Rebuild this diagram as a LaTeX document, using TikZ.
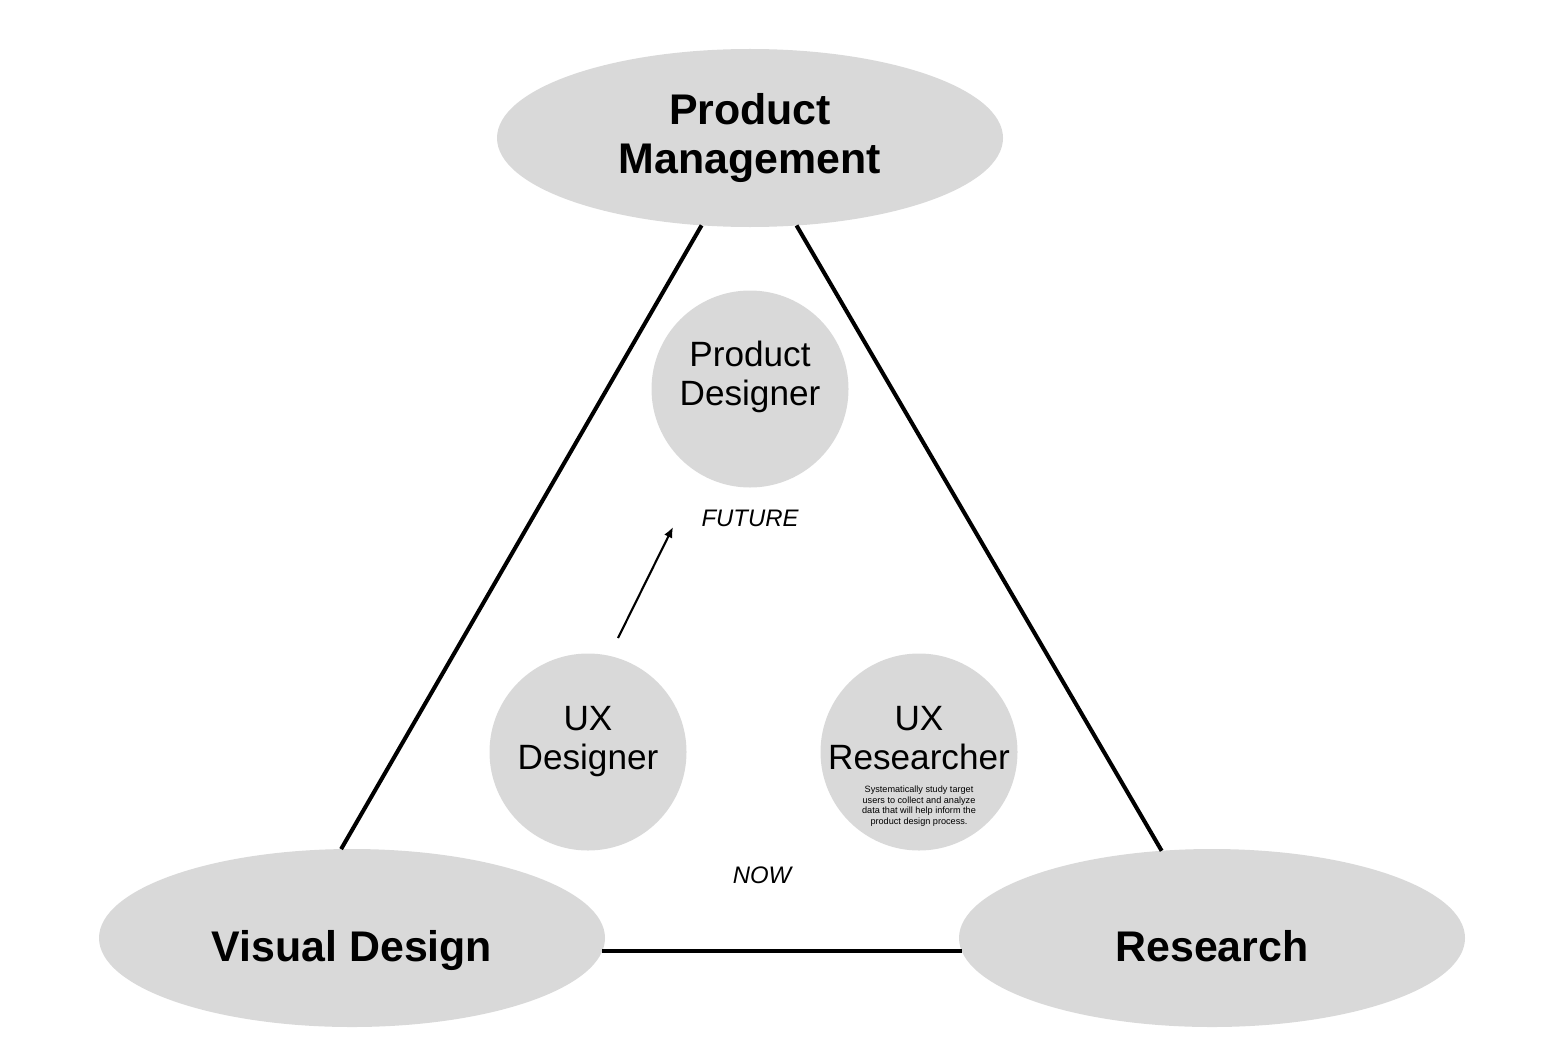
\documentclass[tikz,border=0pt]{standalone}
\usepackage{fontspec}
\setmainfont{Liberation Sans}
\usetikzlibrary{shapes.geometric,arrows.meta}
\definecolor{bubble}{HTML}{D9D9D9}
\tikzset{
	area/.style={ellipse, fill=bubble, minimum width=5.06cm, minimum height=1.78cm, inner sep=0pt, outer sep=0pt, align=center, font=\fontsize{12.2}{14.2}\selectfont\bfseries},
	oneline/.style={text height=13.3pt, text depth=0pt},
	role/.style={circle, fill=bubble, minimum size=1.97cm, inner sep=0pt},
	rolename/.style={align=center, inner sep=0pt, text depth=0pt, font=\fontsize{10}{11.1}\selectfont},
	note/.style={align=center, inner sep=0pt, font=\fontsize{2.6}{3}\selectfont},
	stage/.style={inner sep=0pt, font=\fontsize{6.8}{8}\selectfont\itshape},
	edge/.style={line width=1.15pt},
}

\begin{document}
\begin{tikzpicture}
		\useasboundingbox (0,0) rectangle (15.54,-10.54);

		\draw 
		(7.50, -1.38) node [area] (PM) {Product\\Management}
		(3.52, -9.38) node [area, oneline] (VD) {Visual Design}
		(12.12, -9.38) node [area, oneline] (RS) {Research};
		\draw[edge] (PM.241) -- (VD.97);
		\draw[edge] (PM.298) -- (RS.120.6);
		\draw[edge] (VD.-3.4) -- (RS.183.4);

		\draw 
		(7.50, -3.89) node [role] (PD) {}
		(5.88, -7.52) node [role] (UXD) {}
		(9.19, -7.52) node [role] (UXR) {};

		\draw 
		(7.50, -3.73) node [rolename] (PDname) {Product\\Designer}
		(5.88, -7.38) node [rolename] (UXDname) {UX\\Designer}
		(9.19, -7.38) node [rolename] (UXRname) {UX\\Researcher}
		(9.19, -8.06) node [note] (UXRnote) {Systematically study target\\users to collect and analyze\\data that will help inform the\\product design process.};

		\draw 
		(7.50, -5.18) node [stage] (future) {FUTURE}
		(7.62, -8.75) node [stage] (now) {NOW};
		\coordinate (rise) at (6.18, -6.38);
		\coordinate (goal) at (6.73, -5.27);
		\draw[-{Latex[length=3pt, width=2.6pt]}, line width=0.6pt] (rise) -- (goal);
	\end{tikzpicture}
\end{document}
